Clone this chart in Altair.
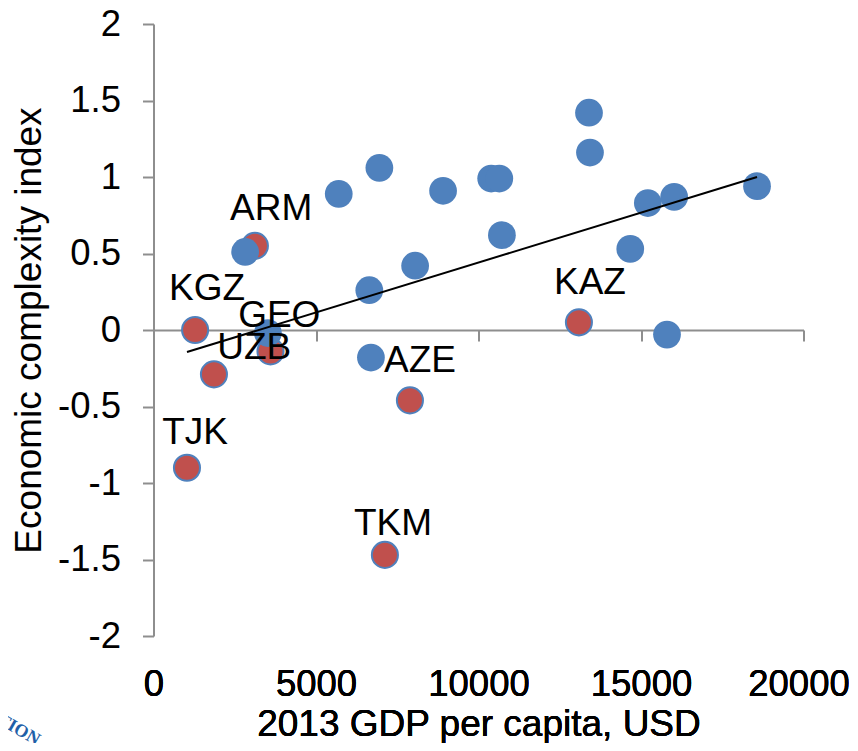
import altair as alt
import pandas as pd

blue_x = [5700, 6950, 8910, 10390, 10640, 10720, 8050, 6640, 6690, 2820, 13400, 13430, 14670, 15210, 16020, 18570, 15800, 3520]
blue_y = [0.89, 1.06, 0.91, 0.99, 0.99, 0.62, 0.42, 0.26, -0.18, 0.51, 1.42, 1.16, 0.53, 0.83, 0.87, 0.94, -0.03, -0.02]
red_x = [3120, 1280, 1860, 3600, 1030, 7890, 7120, 13090]
red_y = [0.55, 0.0, -0.29, -0.14, -0.90, -0.46, -1.47, 0.05]
label_text = ["ARM", "KGZ", "GEO", "UZB", "TJK", "AZE", "TKM", "KAZ"]
label_x = [3620, 1650, 3870, 3100, 1280, 8200, 7370, 13430]
label_y = [0.79, 0.27, 0.09, -0.12, -0.67, -0.20, -1.27, 0.31]
trend_x = [1030, 18570]
trend_y = [-0.144, 1.0]
x_ticks = [0, 5000, 10000, 15000, 20000]
y_ticks = [-2, -1.5, -1, -0.5, 0, 0.5, 1, 1.5, 2]
logo_text = ["TION"]

FONT = "Liberation Sans"
FS = 36.5
TS = 37
GREY = "#8E8E8E"
W, H = 650, 612

xs = alt.Scale(domain=[0, 20000], nice=False, zero=False)
ys = alt.Scale(domain=[-2, 2], nice=False, zero=False)

x_main = alt.X("x:Q", scale=xs, title="2013 GDP per capita, USD",
               axis=alt.Axis(orient="bottom", values=x_ticks, grid=False, domain=False, ticks=False, labelFont=FONT,
                             labelFontSize=FS, labelColor="black", labelPadding=30, labelFlush=False,
                             labelOffset={"condition": {"test": "datum.value === 20000", "value": -5}, "value": 0},
                             labelOverlap=False, labelExpr="toString(datum.value)", titleFont=FONT, titleFontSize=TS,
                             titleFontWeight="normal", titleColor="black", titlePadding=4))
x_line = alt.X("x:Q", scale=xs, title=None,
               axis=alt.Axis(orient="bottom", values=x_ticks, grid=False, domain=True, domainColor=GREY, domainWidth=2,
                             ticks=True, tickColor=GREY, tickWidth=2, tickSize=11, labels=False,
                             offset=-306))
y_main = alt.Y("y:Q", scale=ys, title="Economic complexity index",
               axis=alt.Axis(values=y_ticks, grid=False, domainColor=GREY, domainWidth=2, tickColor=GREY,
                             tickWidth=2, tickSize=11, labelFont=FONT, labelFontSize=FS, labelColor="black",
                             labelPadding=22, labelOverlap=False, labelExpr="toString(datum.value)", titleFont=FONT, titleFontSize=TS,
                             titleFontWeight="normal", titleColor="black", titlePadding=9))

blue = pd.DataFrame({"x": blue_x, "y": blue_y})
red = pd.DataFrame({"x": red_x, "y": red_y})
labels = pd.DataFrame({"x": label_x, "y": label_y, "t": label_text})
trend = pd.DataFrame({"x": trend_x, "y": trend_y})

base_axis = alt.Chart(trend).mark_point(opacity=0).encode(x=x_line, y=y_main)
red_l = alt.Chart(red).mark_circle(size=680, color="#C0504D", opacity=1, stroke="#4F81BD", strokeWidth=2).encode(x=x_main, y=y_main)
blue_l = alt.Chart(blue).mark_circle(size=770, color="#4F81BD", opacity=1).encode(x=x_main, y=y_main)
line_l = alt.Chart(trend).mark_line(color="black", strokeWidth=2).encode(x=x_main, y=y_main)
text_l = alt.Chart(labels).mark_text(font=FONT, fontSize=TS, color="black").encode(x=x_main, y=y_main, text="t:N")
logo_l = alt.Chart(pd.DataFrame({"t": logo_text})).mark_text(
    font="Liberation Serif", fontSize=18, fontWeight="bold", color="#1F5FA8", angle=30
).encode(x=alt.value(-135), y=alt.value(706), text="t:N")

chart = (alt.layer(base_axis, red_l, blue_l, line_l, text_l, logo_l)
         .resolve_axis(x="independent")
         .properties(width=W, height=H, autosize=alt.AutoSizeParams(type="none"),
                     padding={"left": 145.5, "top": 16, "right": 46.5, "bottom": 107},
                     background="white")
         .configure_view(stroke=None))
chart.save("out.html", embed_options={"renderer": "svg", "actions": False})
